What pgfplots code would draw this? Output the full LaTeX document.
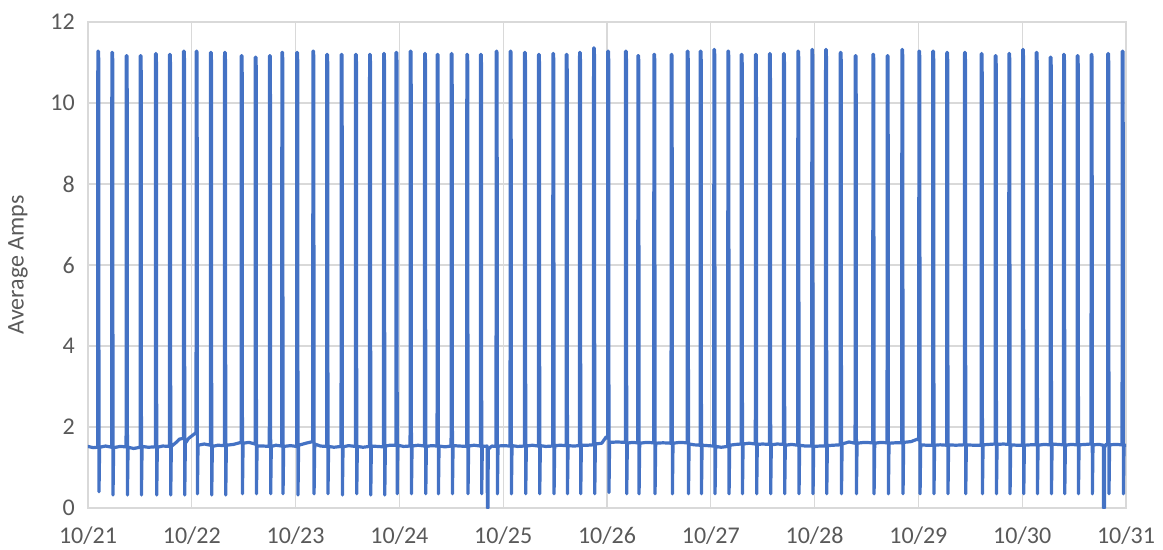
\documentclass[border=0pt]{standalone}
\usepackage{pgfplots}
\pgfplotsset{compat=1.18}
\usepackage{fontspec}
\setmainfont{Carlito}
\definecolor{seriesblue}{HTML}{4472C4}
\definecolor{gridgray}{HTML}{D9D9D9}
\definecolor{labelgray}{HTML}{595959}

\begin{document}
\begin{tikzpicture}
\begin{axis}[
  scale only axis,
  width=1038pt, height=486pt,
  xmin=0, xmax=10, ymin=0, ymax=12,
  xtick={0,1,...,10},
  xticklabels={10/21,10/22,10/23,10/24,10/25,10/26,10/27,10/28,10/29,10/30,10/31},
  ytick={0,2,...,12},
  grid=major,
  major grid style={gridgray, line width=1.2pt},
  axis line style={gridgray, line width=1.2pt},
  tick style={draw=none},
  /pgf/number format/assume math mode=true,
  tick label style={font=\fontsize{24}{28}\selectfont, text=labelgray, inner sep=0pt},
  yticklabel style={anchor=east, xshift=-13pt},
  xticklabel style={anchor=north, yshift=-19pt},
  ylabel={Average Amps},
  ylabel style={font=\fontsize{24}{28}\selectfont, text=labelgray,
    at={(axis description cs:0,0.5)}, anchor=center, yshift=70pt},
  clip mode=individual,
]
\addplot[seriesblue, line width=3.2pt, line join=round, line cap=round] table[row sep=\\] {
x y \\
0.000 1.52 \\ 0.050 1.49 \\
0.093 1.50 \\ 0.095 11.28 \\ 0.101 11.28 \\ 0.103 11.08 \\ 0.106 0.40 \\ 0.112 1.50 \\ 0.170 1.53 \\
0.228 1.50 \\ 0.230 11.25 \\ 0.236 11.25 \\ 0.238 11.05 \\ 0.241 0.32 \\ 0.247 1.49 \\ 0.310 1.52 \\
0.367 1.51 \\ 0.369 11.17 \\ 0.375 11.17 \\ 0.377 10.97 \\ 0.380 0.32 \\ 0.386 1.50 \\ 0.440 1.47 \\
0.502 1.50 \\ 0.504 11.17 \\ 0.510 11.17 \\ 0.512 10.97 \\ 0.515 0.32 \\ 0.521 1.52 \\ 0.580 1.50 \\
0.649 1.51 \\ 0.651 11.22 \\ 0.657 11.22 \\ 0.659 11.02 \\ 0.662 0.32 \\ 0.668 1.50 \\ 0.720 1.53 \\
0.784 1.52 \\ 0.786 11.20 \\ 0.792 11.20 \\ 0.794 11.00 \\ 0.797 0.32 \\ 0.803 1.52 \\ 0.850 1.62 \\ 0.880 1.70 \\
0.919 1.72 \\ 0.921 11.28 \\ 0.927 11.28 \\ 0.929 11.08 \\ 0.932 0.32 \\ 0.938 1.60 \\ 0.970 1.72 \\ 1.010 1.80 \\ 1.035 1.85 \\
1.041 1.86 \\ 1.043 11.28 \\ 1.049 11.28 \\ 1.051 11.08 \\ 1.054 0.35 \\ 1.060 1.55 \\ 1.120 1.58 \\
1.179 1.55 \\ 1.181 11.25 \\ 1.187 11.25 \\ 1.189 11.05 \\ 1.192 0.32 \\ 1.198 1.52 \\ 1.250 1.55 \\
1.314 1.54 \\ 1.316 11.25 \\ 1.322 11.25 \\ 1.324 11.05 \\ 1.327 0.32 \\ 1.333 1.55 \\ 1.400 1.57 \\
1.475 1.62 \\ 1.477 11.17 \\ 1.483 11.17 \\ 1.485 10.97 \\ 1.488 0.35 \\ 1.494 1.60 \\ 1.550 1.62 \\
1.610 1.58 \\ 1.612 11.13 \\ 1.618 11.13 \\ 1.620 10.93 \\ 1.623 0.35 \\ 1.629 1.53 \\ 1.690 1.53 \\
1.747 1.52 \\ 1.749 11.17 \\ 1.755 11.17 \\ 1.757 10.97 \\ 1.760 0.35 \\ 1.766 1.52 \\ 1.810 1.55 \\
1.866 1.53 \\ 1.868 11.25 \\ 1.874 11.25 \\ 1.876 11.05 \\ 1.879 0.35 \\ 1.885 1.52 \\ 1.950 1.54 \\
2.010 1.52 \\ 2.012 11.25 \\ 2.018 11.25 \\ 2.020 11.05 \\ 2.023 0.32 \\ 2.029 1.55 \\ 2.100 1.60 \\
2.165 1.64 \\ 2.167 11.28 \\ 2.173 11.28 \\ 2.175 11.08 \\ 2.178 0.35 \\ 2.184 1.58 \\ 2.240 1.53 \\
2.299 1.52 \\ 2.301 11.20 \\ 2.307 11.20 \\ 2.309 11.00 \\ 2.312 0.35 \\ 2.318 1.52 \\ 2.370 1.50 \\
2.438 1.52 \\ 2.440 11.20 \\ 2.446 11.20 \\ 2.448 11.00 \\ 2.451 0.32 \\ 2.457 1.51 \\ 2.510 1.54 \\
2.576 1.52 \\ 2.578 11.20 \\ 2.584 11.20 \\ 2.586 11.00 \\ 2.589 0.35 \\ 2.595 1.52 \\ 2.650 1.50 \\
2.711 1.52 \\ 2.713 11.20 \\ 2.719 11.20 \\ 2.721 11.00 \\ 2.724 0.32 \\ 2.730 1.53 \\ 2.790 1.52 \\
2.846 1.51 \\ 2.848 11.22 \\ 2.854 11.22 \\ 2.856 11.02 \\ 2.859 0.32 \\ 2.865 1.53 \\ 2.910 1.55 \\
2.966 1.55 \\ 2.968 11.25 \\ 2.974 11.25 \\ 2.976 11.05 \\ 2.979 0.35 \\ 2.985 1.55 \\ 3.040 1.52 \\
3.103 1.53 \\ 3.105 11.28 \\ 3.111 11.28 \\ 3.113 11.08 \\ 3.116 0.35 \\ 3.122 1.53 \\ 3.180 1.55 \\
3.241 1.53 \\ 3.243 11.22 \\ 3.249 11.22 \\ 3.251 11.02 \\ 3.254 0.35 \\ 3.260 1.52 \\ 3.310 1.54 \\
3.363 1.53 \\ 3.365 11.20 \\ 3.371 11.20 \\ 3.373 11.00 \\ 3.376 0.35 \\ 3.382 1.53 \\ 3.440 1.51 \\
3.498 1.53 \\ 3.500 11.22 \\ 3.506 11.22 \\ 3.508 11.02 \\ 3.511 0.35 \\ 3.517 1.54 \\ 3.580 1.53 \\
3.648 1.52 \\ 3.650 11.20 \\ 3.656 11.20 \\ 3.658 11.00 \\ 3.661 0.35 \\ 3.667 1.53 \\ 3.720 1.55 \\
3.780 1.53 \\ 3.782 11.20 \\ 3.788 11.20 \\ 3.790 11.00 \\ 3.793 0.35 \\ 3.799 1.52 \\
3.845 1.53 \\ 3.848 0.00 \\ 3.853 0.00 \\ 3.856 1.45 \\ 3.890 1.53 \\
3.931 1.52 \\ 3.933 11.28 \\ 3.939 11.28 \\ 3.941 11.08 \\ 3.944 0.35 \\ 3.950 1.53 \\ 4.000 1.54 \\
4.066 1.53 \\ 4.068 11.28 \\ 4.074 11.28 \\ 4.076 11.08 \\ 4.079 0.35 \\ 4.085 1.54 \\ 4.140 1.52 \\
4.204 1.53 \\ 4.206 11.25 \\ 4.212 11.25 \\ 4.214 11.05 \\ 4.217 0.35 \\ 4.223 1.53 \\ 4.280 1.55 \\
4.339 1.53 \\ 4.341 11.20 \\ 4.347 11.20 \\ 4.349 11.00 \\ 4.352 0.35 \\ 4.358 1.54 \\ 4.410 1.52 \\
4.477 1.53 \\ 4.479 11.22 \\ 4.485 11.22 \\ 4.487 11.02 \\ 4.490 0.35 \\ 4.496 1.54 \\ 4.550 1.55 \\
4.606 1.54 \\ 4.608 11.20 \\ 4.614 11.20 \\ 4.616 11.00 \\ 4.619 0.35 \\ 4.625 1.54 \\ 4.680 1.53 \\
4.734 1.54 \\ 4.736 11.25 \\ 4.742 11.25 \\ 4.744 11.05 \\ 4.747 0.35 \\ 4.753 1.55 \\ 4.810 1.55 \\
4.869 1.56 \\ 4.871 11.36 \\ 4.877 11.36 \\ 4.879 11.16 \\ 4.882 0.35 \\ 4.888 1.58 \\ 4.950 1.60 \\ 4.990 1.75 \\
5.006 1.72 \\ 5.008 11.28 \\ 5.014 11.28 \\ 5.016 11.08 \\ 5.019 0.38 \\ 5.025 1.62 \\ 5.100 1.63 \\
5.177 1.62 \\ 5.179 11.28 \\ 5.185 11.28 \\ 5.187 11.08 \\ 5.190 0.35 \\ 5.196 1.60 \\ 5.240 1.62 \\
5.296 1.61 \\ 5.298 11.17 \\ 5.304 11.17 \\ 5.306 10.97 \\ 5.309 0.35 \\ 5.315 1.60 \\ 5.380 1.62 \\
5.450 1.61 \\ 5.452 11.20 \\ 5.458 11.20 \\ 5.460 11.00 \\ 5.463 0.35 \\ 5.469 1.60 \\ 5.540 1.61 \\
5.617 1.60 \\ 5.619 11.20 \\ 5.625 11.20 \\ 5.627 11.00 \\ 5.630 0.35 \\ 5.636 1.60 \\ 5.700 1.62 \\
5.772 1.61 \\ 5.774 11.28 \\ 5.780 11.28 \\ 5.782 11.08 \\ 5.785 0.35 \\ 5.791 1.58 \\ 5.840 1.56 \\
5.897 1.55 \\ 5.899 11.28 \\ 5.905 11.28 \\ 5.907 11.08 \\ 5.910 0.35 \\ 5.916 1.55 \\ 5.970 1.54 \\
6.028 1.53 \\ 6.030 11.32 \\ 6.036 11.32 \\ 6.038 11.12 \\ 6.041 0.35 \\ 6.047 1.52 \\ 6.100 1.50 \\
6.163 1.52 \\ 6.165 11.28 \\ 6.171 11.28 \\ 6.173 11.08 \\ 6.176 0.35 \\ 6.182 1.55 \\ 6.240 1.57 \\
6.292 1.58 \\ 6.294 11.20 \\ 6.300 11.20 \\ 6.302 11.00 \\ 6.305 0.35 \\ 6.311 1.58 \\ 6.370 1.60 \\
6.429 1.58 \\ 6.431 11.20 \\ 6.437 11.20 \\ 6.439 11.00 \\ 6.442 0.35 \\ 6.448 1.57 \\ 6.500 1.58 \\
6.564 1.57 \\ 6.566 11.22 \\ 6.572 11.22 \\ 6.574 11.02 \\ 6.577 0.35 \\ 6.583 1.56 \\ 6.640 1.58 \\
6.699 1.57 \\ 6.701 11.22 \\ 6.707 11.22 \\ 6.709 11.02 \\ 6.712 0.35 \\ 6.718 1.55 \\ 6.780 1.57 \\
6.837 1.55 \\ 6.839 11.28 \\ 6.845 11.28 \\ 6.847 11.08 \\ 6.850 0.35 \\ 6.856 1.55 \\ 6.910 1.53 \\
6.972 1.53 \\ 6.974 11.32 \\ 6.980 11.32 \\ 6.982 11.12 \\ 6.985 0.35 \\ 6.991 1.52 \\ 7.050 1.53 \\
7.104 1.53 \\ 7.106 11.32 \\ 7.112 11.32 \\ 7.114 11.12 \\ 7.117 0.35 \\ 7.123 1.54 \\ 7.180 1.55 \\
7.246 1.56 \\ 7.248 11.25 \\ 7.254 11.25 \\ 7.256 11.05 \\ 7.259 0.35 \\ 7.265 1.58 \\ 7.330 1.63 \\
7.390 1.60 \\ 7.392 11.17 \\ 7.398 11.17 \\ 7.400 10.97 \\ 7.403 0.35 \\ 7.409 1.60 \\ 7.480 1.62 \\
7.560 1.61 \\ 7.562 11.20 \\ 7.568 11.20 \\ 7.570 11.00 \\ 7.573 0.35 \\ 7.579 1.60 \\ 7.640 1.62 \\
7.698 1.61 \\ 7.700 11.17 \\ 7.706 11.17 \\ 7.708 10.97 \\ 7.711 0.35 \\ 7.717 1.60 \\ 7.780 1.61 \\
7.839 1.61 \\ 7.841 11.32 \\ 7.847 11.32 \\ 7.849 11.12 \\ 7.852 0.35 \\ 7.858 1.62 \\ 7.930 1.64 \\ 7.990 1.70 \\
8.003 1.68 \\ 8.005 11.28 \\ 8.011 11.28 \\ 8.013 11.08 \\ 8.016 0.35 \\ 8.022 1.56 \\ 8.080 1.55 \\
8.137 1.55 \\ 8.139 11.28 \\ 8.145 11.28 \\ 8.147 11.08 \\ 8.150 0.35 \\ 8.156 1.55 \\ 8.210 1.56 \\
8.272 1.55 \\ 8.274 11.25 \\ 8.280 11.25 \\ 8.282 11.05 \\ 8.285 0.35 \\ 8.291 1.56 \\ 8.360 1.55 \\
8.443 1.56 \\ 8.445 11.25 \\ 8.451 11.25 \\ 8.453 11.05 \\ 8.456 0.35 \\ 8.462 1.56 \\ 8.530 1.55 \\
8.604 1.55 \\ 8.606 11.22 \\ 8.612 11.22 \\ 8.614 11.02 \\ 8.617 0.35 \\ 8.623 1.56 \\ 8.680 1.57 \\
8.739 1.58 \\ 8.741 11.17 \\ 8.747 11.17 \\ 8.749 10.97 \\ 8.752 0.35 \\ 8.758 1.57 \\ 8.820 1.58 \\
8.870 1.57 \\ 8.872 11.22 \\ 8.878 11.22 \\ 8.880 11.02 \\ 8.883 0.35 \\ 8.889 1.56 \\ 8.950 1.55 \\
9.002 1.55 \\ 9.004 11.32 \\ 9.010 11.32 \\ 9.012 11.12 \\ 9.015 0.35 \\ 9.021 1.55 \\ 9.080 1.56 \\
9.134 1.56 \\ 9.136 11.25 \\ 9.142 11.25 \\ 9.144 11.05 \\ 9.147 0.35 \\ 9.153 1.55 \\ 9.210 1.57 \\
9.269 1.56 \\ 9.271 11.13 \\ 9.277 11.13 \\ 9.279 10.93 \\ 9.282 0.35 \\ 9.288 1.58 \\ 9.340 1.57 \\
9.397 1.56 \\ 9.399 11.20 \\ 9.405 11.20 \\ 9.407 11.00 \\ 9.410 0.35 \\ 9.416 1.55 \\ 9.470 1.57 \\
9.529 1.56 \\ 9.531 11.17 \\ 9.537 11.17 \\ 9.539 10.97 \\ 9.542 0.35 \\ 9.548 1.56 \\ 9.610 1.57 \\
9.663 1.58 \\ 9.665 11.20 \\ 9.671 11.20 \\ 9.673 11.00 \\ 9.676 0.35 \\ 9.682 1.56 \\ 9.740 1.57 \\
9.782 1.55 \\ 9.784 0.00 \\ 9.792 0.00 \\ 9.794 1.50 \\ 9.810 1.58 \\
9.823 1.57 \\ 9.825 11.22 \\ 9.831 11.22 \\ 9.833 11.02 \\ 9.836 0.35 \\ 9.842 1.56 \\ 9.900 1.57 \\
9.962 1.56 \\ 9.964 11.28 \\ 9.970 11.28 \\ 9.972 11.08 \\ 9.975 0.35 \\ 9.981 1.55 \\ 10.000 1.55 \\
};
\coordinate (plotsw) at (rel axis cs:0,0);
\coordinate (plotne) at (rel axis cs:1,1);
\end{axis}
\pgfresetboundingbox
\path ([shift={(-88pt,-41pt)}]plotsw) rectangle ([shift={(37pt,22pt)}]plotne);
\end{tikzpicture}
\end{document}
